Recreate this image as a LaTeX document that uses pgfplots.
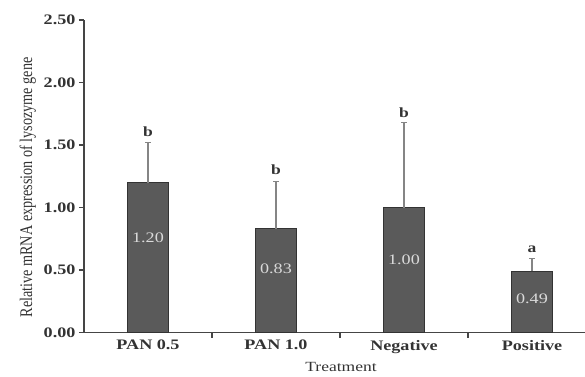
\documentclass[border=0pt]{standalone}
\usepackage{pgfplots}
\pgfplotsset{compat=1.18}
\usepackage{fontspec}
\setmainfont{Liberation Serif}
\newfontfamily\wide[FakeStretch=1.25]{Liberation Serif}
\definecolor{barfill}{HTML}{5A5A5A}
\definecolor{baredge}{HTML}{333333}
\definecolor{axcol}{HTML}{454545}
\definecolor{errcol}{HTML}{858585}
\definecolor{txtcol}{HTML}{333333}
\definecolor{valcol}{HTML}{DADADA}
\begin{document}
\begin{tikzpicture}
\useasboundingbox (0,0) rectangle (585pt,376pt);
\begin{axis}[
  at={(84pt,43.5pt)}, anchor=south west,
  scale only axis, width=501pt, height=312.5pt,
  xmin=-0.5, xmax=3.414, ymin=0, ymax=2.5,
  axis lines*=left,
  axis line style={axcol, line width=1.4pt, -},
  ytick={0,0.5,1,1.5,2,2.5},
  yticklabel style={/pgf/number format/fixed, /pgf/number format/zerofill, /pgf/number format/precision=2,
     /pgf/number format/assume math mode=true, font=\wide\bfseries\fontsize{14.5}{16}\selectfont, text=txtcol},
  xtick={0.5,1.5,2.5},
  xticklabels={},
  extra x ticks={0,1,2,3},
  extra x tick labels={PAN 0.5, PAN 1.0, Negative, Positive},
  extra x tick style={major tick length=0pt,
     xticklabel style={font=\wide\bfseries\fontsize{14.5}{16}\selectfont, text=txtcol, yshift=-4pt}},
  tick align=outside,
  major tick length=5pt,
  tick style={draw=axcol, line width=1.2pt},
  every axis y label/.style={at={(axis description cs:-0.112,0.464)}, rotate=90, anchor=center},
  every axis x label/.style={at={(axis description cs:0.513,-0.110)}, anchor=center},
  ylabel={\scalebox{1}[1.25]{\fontsize{14.2}{16}\selectfont Relative mRNA expression of lysozyme gene}},
  xlabel={\wide\fontsize{14}{16}\selectfont Treatment},
  label style={text=txtcol},
  ybar, bar width=41pt,
  clip=false,
]
\addplot[fill=barfill, draw=baredge, line width=1pt,
  error bars/.cd, y dir=plus, y explicit,
  error bar style={errcol, line width=1.4pt},
  error mark options={rotate=90, mark size=3pt, errcol, line width=1.3pt}]
  coordinates {(0,1.20) +- (0,0.32) (1,0.83) +- (0,0.38) (2,1.00) +- (0,0.68) (3,0.49) +- (0,0.10)};
\node[text=valcol, font=\wide\fontsize{14.5}{16}\selectfont] at (axis cs:0,0.76) {1.20};
\node[text=valcol, font=\wide\fontsize{14.5}{16}\selectfont] at (axis cs:1,0.51) {0.83};
\node[text=valcol, font=\wide\fontsize{14.5}{16}\selectfont] at (axis cs:2,0.58) {1.00};
\node[text=valcol, font=\wide\fontsize{14.5}{16}\selectfont] at (axis cs:3,0.27) {0.49};
\node[text=txtcol, font=\wide\bfseries\fontsize{14}{16}\selectfont] at (axis cs:0,1.605) {b};
\node[text=txtcol, font=\wide\bfseries\fontsize{14}{16}\selectfont] at (axis cs:1,1.30) {b};
\node[text=txtcol, font=\wide\bfseries\fontsize{14}{16}\selectfont] at (axis cs:2,1.757) {b};
\node[text=txtcol, font=\wide\bfseries\fontsize{14}{16}\selectfont] at (axis cs:3,0.663) {a};
\end{axis}
\end{tikzpicture}
\end{document}
